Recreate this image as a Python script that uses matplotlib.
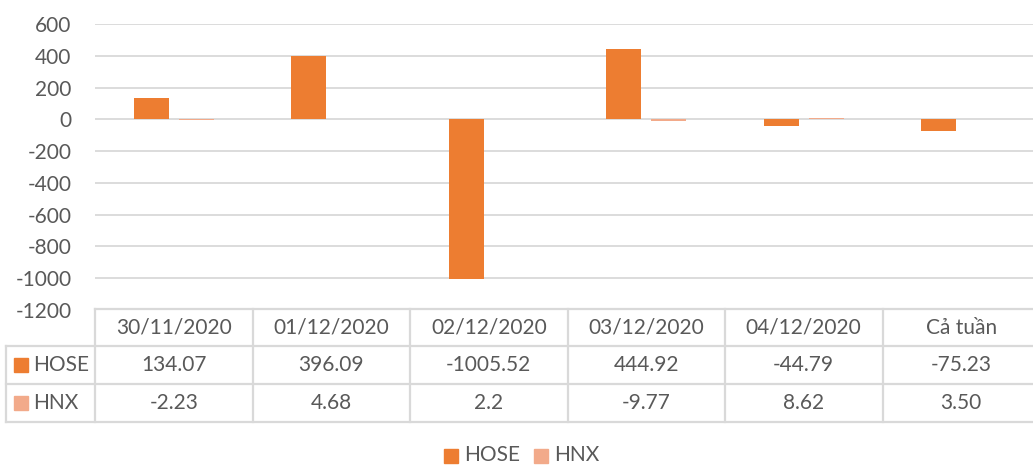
import numpy as np
import matplotlib
matplotlib.use("Agg")
import matplotlib.pyplot as plt
import matplotlib.transforms as mtransforms
from matplotlib.patches import Rectangle

# du lieu
ngay = ["30/11/2020", "01/12/2020", "02/12/2020", "03/12/2020", "04/12/2020", "Cả tuần"]
hose = [134.07, 396.09, -1005.52, 444.92, -44.79, -75.23]
hnx = [-2.23, 4.68, 2.2, -9.77, 8.62, 3.50]
hose_txt = ["134.07", "396.09", "-1005.52", "444.92", "-44.79", "-75.23"]
hnx_txt = ["-2.23", "4.68", "2.2", "-9.77", "8.62", "3.50"]
yticks = [600, 400, 200, 0, -200, -400, -600, -800, -1000, -1200]

c_hose = "#ED7D31"
c_hnx = "#F2AA8A"
grid_c = "#D9D9D9"
txt_c = "#595959"

plt.rcParams['font.family'] = ['Lato', 'DejaVu Sans']

W, H = 1033, 466
fig = plt.figure(figsize=(W / 100, H / 100), dpi=100)

ax = fig.add_axes([95 / W, (H - 310) / H, (1040 - 95) / W, (310 - 24) / H])
x = np.arange(len(ngay))
bw = 35 / 157.5
off = 22.5 / 157.5
ax.bar(x - off, hose, bw, color=c_hose, zorder=3)
ax.bar(x + off, hnx, bw, color=c_hnx, zorder=3)
ax.set_xlim(-0.5, len(ngay) - 0.5)
ax.set_ylim(-1200, 600)
ax.set_yticks(yticks)
ax.set_yticklabels([str(t) for t in yticks])
ax.tick_params(axis='y', length=0, pad=17, labelsize=15, labelcolor=txt_c)
ax.set_xticks([])
for s in ax.spines.values():
    s.set_visible(False)
ax.grid(axis='y', color=grid_c, lw=1.3, zorder=0)

# bang du lieu
ov = fig.add_axes([0, 0, 1, 1], zorder=5)
ov.set_xlim(0, W)
ov.set_ylim(H, 0)
ov.axis('off')
tr = mtransforms.blended_transform_factory(ax.transData, ov.transData)

y_rows = [309, 346, 384, 422]
lw = 1.6
ov.plot([95, 1040], [y_rows[0], y_rows[0]], color=grid_c, lw=lw)
for yy in y_rows[1:]:
    ov.plot([6, 1040], [yy, yy], color=grid_c, lw=lw)
ov.plot([6, 6], [y_rows[1], y_rows[3]], color=grid_c, lw=lw)
ov.plot([95, 95], [y_rows[0], y_rows[3]], color=grid_c, lw=lw)
for i in range(1, len(ngay)):
    ov.plot([i - 0.5, i - 0.5], [y_rows[0], y_rows[3]], color=grid_c, lw=lw, transform=tr)

fs = 15
for i in range(len(ngay)):
    ov.text(i, (y_rows[0] + y_rows[1]) / 2, ngay[i], transform=tr, ha='center', va='center',
            fontsize=fs, color=txt_c)
    ov.text(i, (y_rows[1] + y_rows[2]) / 2, hose_txt[i], transform=tr, ha='center', va='center',
            fontsize=fs, color=txt_c)
    ov.text(i, (y_rows[2] + y_rows[3]) / 2, hnx_txt[i], transform=tr, ha='center', va='center',
            fontsize=fs, color=txt_c)

# nhan hang + o mau
for yy, name, c in [((y_rows[1] + y_rows[2]) / 2, "HOSE", c_hose), ((y_rows[2] + y_rows[3]) / 2, "HNX", c_hnx)]:
    ov.add_patch(Rectangle((14, yy - 7), 14, 14, color=c))
    ov.text(33, yy, name, ha='left', va='center', fontsize=fs, color=txt_c)

# chu thich
ly = 455
ov.add_patch(Rectangle((444, ly - 6), 14, 14, color=c_hose))
ov.text(464, ly, "HOSE", ha='left', va='center', fontsize=fs, color=txt_c)
ov.add_patch(Rectangle((534, ly - 6), 14, 14, color=c_hnx))
ov.text(554, ly, "HNX", ha='left', va='center', fontsize=fs, color=txt_c)

fig.savefig("out.png", dpi=100)
